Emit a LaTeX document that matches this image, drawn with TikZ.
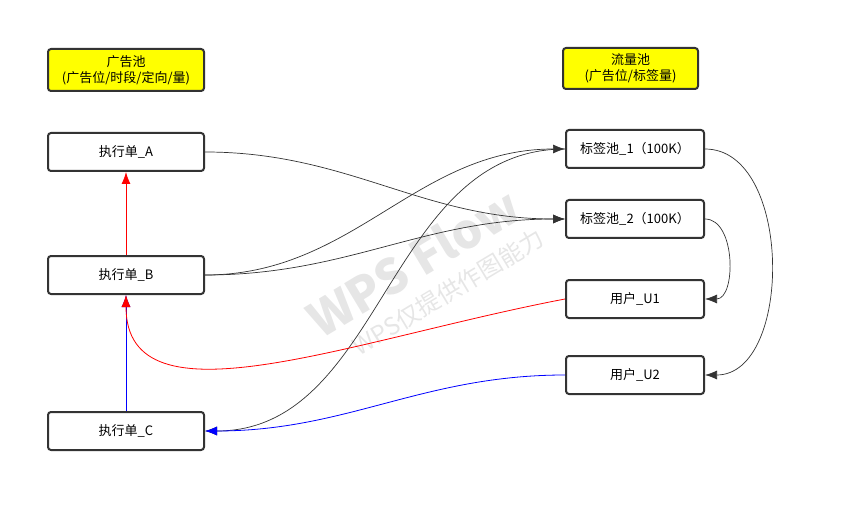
\documentclass[tikz,border=0pt]{standalone}
\usepackage{fontspec}
\setmainfont{Noto Sans CJK SC}
\usepackage{xcolor}
\usepackage{tikz}
\usetikzlibrary{arrows.meta,positioning}
\definecolor{edgegray}{HTML}{333333}
\definecolor{poolyellow}{HTML}{FFFF00}
\definecolor{markgray}{HTML}{E6E6E6}
\tikzset{
  block/.style={rectangle, draw=edgegray, line width=2pt, rounded corners=3pt, align=center, minimum width=156pt, minimum height=38pt, font=\fontsize{13}{16}\selectfont},
  poolblock/.style={block, fill=poolyellow, minimum height=42pt},
  line/.style={-{Latex[length=12pt,width=9pt]}, edgegray, line width=0.7pt},
  redline/.style={line, red, line width=0.8pt},
  blueline/.style={line, blue, line width=0.8pt}
}

\begin{document}
\begin{tikzpicture}[x=1pt, y=-1pt]
  \useasboundingbox (0,0) rectangle (855,532);
  % watermark
  \node[rotate=31, text=markgray, font=\fontsize{48}{56}\selectfont\bfseries] (markbig) at (413,262) {WPS Flow};
  \node[rotate=31, text=markgray, font=\fontsize{24}{28}\selectfont] (marksmall) at (448,292) {WPS仅提供作图能力};
  % left column
  \node[poolblock] (adpool) at (126,70) {广告池\\(广告位/时段/定向/量)};
  \node[block] (ordera) at (126,152) {执行单\_A};
  \node[block] (orderb) at (126,275) {执行单\_B};
  \node[block] (orderc) at (126,431) {执行单\_C};
  % right column
  \node[poolblock, minimum width=135pt, minimum height=41pt] (flowpool) at (630.5,68.5) {流量池\\(广告位/标签量)};
  \node[block, minimum width=138pt] (tag1) at (635,149) {标签池\_1（100K）};
  \node[block, minimum width=138pt] (tag2) at (635,219) {标签池\_2（100K）};
  \node[block, minimum width=138pt] (user1) at (635,299) {用户\_U1};
  \node[block, minimum width=138pt] (user2) at (635,375) {用户\_U2};
  % links
  \draw[redline] (orderb) -- (ordera);
  \draw[blueline] (orderc) -- (orderb);
  \draw[line] (ordera.east) to[out=0, in=180] (tag2.west);
  \draw[line] (orderb.east) to[out=0, in=180] (tag1.west);
  \draw[line] (orderb.east) to[out=0, in=180] (tag2.west);
  \draw[line] (tag1.west) to[out=180, in=0] (orderc.east);
  \draw[redline] (user1.west) .. controls (350,340) and (126,430) .. (orderb.south);
  \draw[blueline] (user2.west) to[out=180, in=0] (orderc.east);
  \draw[line] (tag1.east) to[out=0, in=0] (user2.east);
  \draw[line] (tag2.east) to[out=0, in=0] (user1.east);
\end{tikzpicture}
\end{document}
